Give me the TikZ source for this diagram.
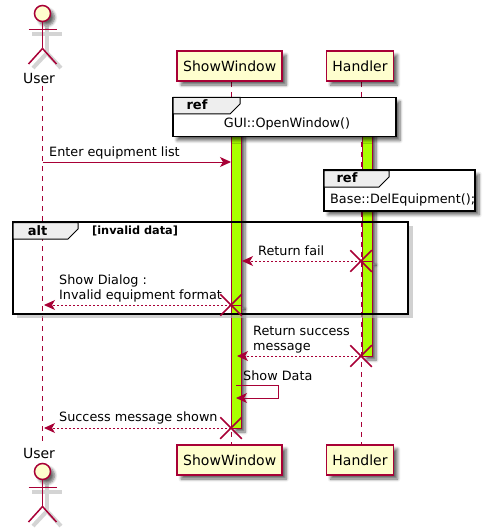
\documentclass[tikz,border=0pt]{standalone}
\usepackage{fontspec}
\setmainfont{DejaVu Sans}
\usetikzlibrary{arrows.meta,shapes.misc,shadows.blur}
\definecolor{seqline}{HTML}{A80036}
\definecolor{seqfill}{HTML}{FEFECE}
\definecolor{barfill}{HTML}{A9FF00}
\definecolor{tabfill}{HTML}{EEEEEE}
\tikzset{
    softshadow/.style = {blur shadow={shadow xshift=4pt,shadow yshift=-4pt,shadow blur steps=6,shadow blur radius=3pt,shadow opacity=60}},
    partbox/.style = {shape=rectangle,draw=seqline,fill=seqfill,line width=1.5pt,minimum height=30pt,inner sep=0pt,font=\fontsize{14}{16}\selectfont,softshadow},
    actorname/.style = {font=\fontsize{14}{16}\selectfont,inner sep=0pt},
    actorline/.style = {draw=seqline,line width=1.5pt},
    actorgray/.style = {draw=black!17,line width=4pt},
    lifeline/.style = {draw=seqline,line width=1pt,dash pattern=on 5pt off 5pt},
    activebar/.style = {shape=rectangle,draw=seqline,fill=barfill,line width=1pt,minimum width=10pt,inner sep=0pt,softshadow},
    framebox/.style = {shape=rectangle,draw=black,line width=1.7pt,inner sep=0pt},
    frametab/.style = {draw=black,fill=tabfill,line width=1pt},
    framehead/.style = {font=\bfseries\fontsize{13}{15}\selectfont,inner sep=0pt},
    guardtext/.style = {font=\bfseries\fontsize{11.3}{13}\selectfont,anchor=west,inner sep=0pt},
    msgtext/.style = {font=\fontsize{12.8}{15}\selectfont,anchor=west,inner sep=0pt,align=left},
    msg/.style = {draw=seqline,line width=1pt,->},
    msgback/.style = {msg,dash pattern=on 2pt off 2pt},
    xmark/.style = {shape=cross out,draw=seqline,line width=1.5pt,minimum size=20pt,inner sep=0pt}
}
\begin{document}
\begin{tikzpicture}[
            x = 1pt,
            y = -1pt,
            > = {Stealth[length=11pt,width=10pt,inset=3pt]}
        ]
\useasboundingbox (0,0) rectangle (485,532);

% lifelines
\coordinate (userTop) at (42.5,86);
\coordinate (userEnd) at (42.5,441);
\coordinate (showTop) at (231,82);
\coordinate (showEnd) at (231,444);
\coordinate (handTop) at (361,82);
\coordinate (handEnd) at (361,444);
\path [lifeline] (userTop) -- (userEnd);
\path [lifeline] (showTop) -- (showEnd);
\path [lifeline] (handTop) -- (handEnd);

% activations
\node[activebar,minimum height=175pt] (showBarA) at (236,217.5) {};
\node[activebar,minimum height=123pt] (showBarB) at (236,366.5) {};
\node[activebar,minimum height=131pt] (handBarA) at (367,195.5) {};
\node[activebar,minimum height=95pt] (handBarB) at (367,308.5) {};

% participants
\node[partbox,minimum width=105pt] (showTopBox) at (229.7,66) {ShowWindow};
\node[partbox,minimum width=67pt] (handTopBox) at (360,66) {Handler};
\node[partbox,minimum width=105pt] (showEndBox) at (229.7,460) {ShowWindow};
\node[partbox,minimum width=67pt] (handEndBox) at (360,460) {Handler};

% actor on top
\draw[actorgray] (32,34) -- (62,34);
\draw[actorgray] (47,26) -- (47,53);
\draw[actorgray] (47,53) -- (33,68);
\draw[actorgray] (47,53) -- (61,68);
\node[shape=circle,minimum size=16pt,inner sep=0pt,actorline,fill=seqfill,softshadow] (userHead) at (42.5,13.5) {};
\coordinate (userHip) at (42.5,48.5);
\coordinate (userArmL) at (28.5,29.5);
\coordinate (userArmR) at (56.5,29.5);
\coordinate (userFootL) at (28.5,64);
\coordinate (userFootR) at (56.5,64);
\path [actorline] (userHead) -- (userHip);
\path [actorline] (userArmL) -- (userArmR);
\path [actorline] (userHip) -- (userFootL);
\path [actorline] (userHip) -- (userFootR);
\node[actorname] (userName) at (39,78) {User};

% actor below
\draw[actorgray] (32,492) -- (62,492);
\draw[actorgray] (47,484) -- (47,511);
\draw[actorgray] (47,511) -- (33,526);
\draw[actorgray] (47,511) -- (61,526);
\node[shape=circle,minimum size=16pt,inner sep=0pt,actorline,fill=seqfill,softshadow] (userFoot) at (42.5,471.5) {};
\coordinate (userHipB) at (42.5,506.5);
\coordinate (userArmLB) at (28.5,487.5);
\coordinate (userArmRB) at (56.5,487.5);
\coordinate (userFootLB) at (28.5,522);
\coordinate (userFootRB) at (56.5,522);
\path [actorline] (userFoot) -- (userHipB);
\path [actorline] (userArmLB) -- (userArmRB);
\path [actorline] (userHipB) -- (userFootLB);
\path [actorline] (userHipB) -- (userFootRB);
\node[actorname] (userNameB) at (39,453) {User};

% ref GUI
\node[framebox,softshadow,fill=white,minimum width=223pt,minimum height=39pt] (refGui) at (284.5,117) {};
\draw[frametab] (173,97.5) -- (240,97.5) -- (240,104) -- (230,114) -- (173,114) -- cycle;
\node[framehead] (refGuiHead) at (197,105) {ref};
\node[msgtext,anchor=center] (refGuiText) at (287,124) {GUI::OpenWindow()};

% ref Base
\node[framebox,softshadow,fill=white,minimum width=151pt,minimum height=40.5pt] (refBase) at (399.5,190.5) {};
\draw[frametab] (324,170.5) -- (389,170.5) -- (389,177) -- (379,187) -- (324,187) -- cycle;
\node[framehead] (refBaseHead) at (347,178) {ref};
\node[msgtext] (refBaseText) at (330,199.5) {Base::DelEquipment();};

% alt, only its outline throws a shadow
\fill[black!30,opacity=.6] (409,226) rectangle (412.5,318);
\fill[black!30,opacity=.6] (17,315) rectangle (409,318);
\node[framebox,minimum width=395pt,minimum height=92pt] (altBox) at (210.5,268) {};
\draw[frametab] (13,222.5) -- (78,222.5) -- (78,229) -- (68,239) -- (13,239) -- cycle;
\node[framehead] (altHead) at (37.5,231) {alt};
\node[guardtext] (altGuard) at (92,231) {[invalid data]};

% messages
\coordinate (enterFrom) at (42.5,162);
\coordinate (enterTo) at (231,162);
\path (enterFrom) edge[msg] (enterTo);
\node[msgtext] (enterText) at (49,153) {Enter equipment list};

\node[xmark] (failMark) at (361,261) {};
\coordinate (failTo) at (242,261);
\path (failMark.center) edge[msgback] (failTo);
\node[msgtext] (failText) at (258,251) {Return fail};

\node[xmark] (dialogMark) at (231,305) {};
\coordinate (dialogTo) at (44,305);
\path (dialogMark.center) edge[msgback] (dialogTo);
\node[msgtext] (dialogText) at (59,288) {Show Dialog :\\Invalid equipment format};

\node[xmark] (successMark) at (361,356) {};
\coordinate (successTo) at (237,356);
\path (successMark.center) edge[msgback] (successTo);
\node[msgtext] (successText) at (253,340) {Return success\\message};

\coordinate (dataFrom) at (236,385);
\coordinate (dataTo) at (236,398);
\coordinate (dataOutA) at (278,385);
\coordinate (dataOutB) at (278,398);
\draw [msg] (dataFrom) -- (dataOutA) -- (dataOutB) -- (dataTo);
\node[msgtext] (dataText) at (243,376) {Show Data};

\node[xmark] (shownMark) at (231,428) {};
\coordinate (shownTo) at (44,428);
\path (shownMark.center) edge[msgback] (shownTo);
\node[msgtext] (shownText) at (59,418) {Success message shown};
\end{tikzpicture}
\end{document}
